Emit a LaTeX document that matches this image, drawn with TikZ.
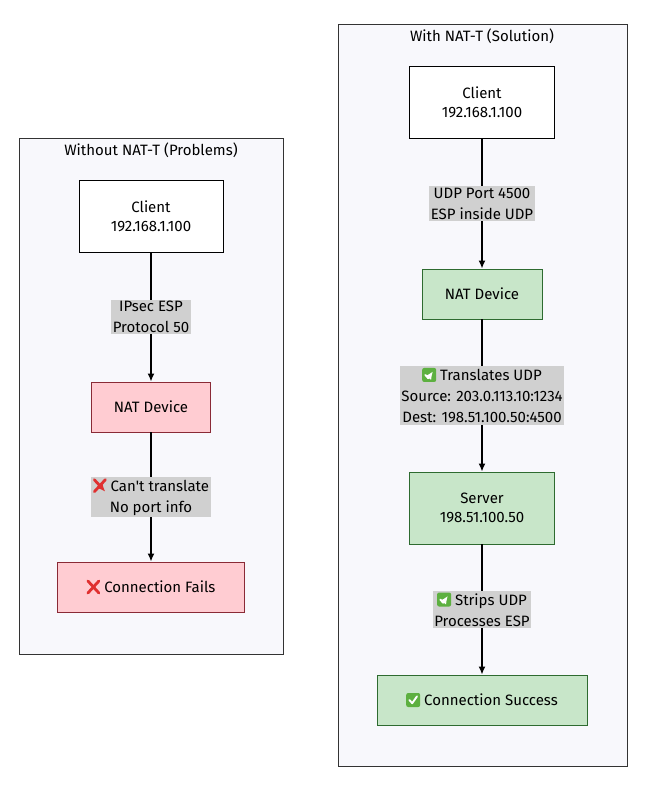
\documentclass[tikz,border=0pt]{standalone}
\usepackage{fontspec}
\setmainfont{Fira Sans}
\definecolor{clfill}{HTML}{F8F8FC}
\definecolor{clline}{HTML}{333333}
\definecolor{pinkf}{HTML}{FFCCD2}
\definecolor{pinkd}{HTML}{8A2A36}
\definecolor{greenf}{HTML}{C8E6C9}
\definecolor{greend}{HTML}{2E6B30}
\definecolor{lblbg}{HTML}{D0D0D0}
\definecolor{chkg}{HTML}{5DB040}
\definecolor{xred}{HTML}{E03030}
\newcommand\mychk{\tikz[baseline=-0.1ex,x=1pt,y=1pt]{\fill[chkg,rounded corners=2pt](0,-2) rectangle (14,12);\draw[white,line width=1.9pt,line cap=round,line join=round](3.2,5)--(6,1.8)--(10.8,8.6);}}
\newcommand\myx{\tikz[baseline=-0.1ex,x=1pt,y=1pt]{\draw[xred,line width=2.8pt,line cap=round](1.5,-1)--(12.5,11)(1.5,11)--(12.5,-1);}}
\begin{document}
\begin{tikzpicture}[x=1pt,y=-1pt,font=\fontsize{15}{19}\selectfont,
  cluster/.style={draw=clline,fill=clfill,line width=0.8pt},
  box/.style={draw=black,fill=white,line width=0.9pt,minimum height=#1,align=center,inner sep=0pt},
  pinkbox/.style={box=#1,fill=pinkf,draw=pinkd},
  greenbox/.style={box=#1,fill=greenf,draw=greend},
  lbl/.style={fill=lblbg,align=center,inner sep=1.5pt,font=\fontsize{15}{21}\selectfont},
  arr/.style={-{Latex[length=8pt,width=7pt]},line width=1.5pt}]
\usetikzlibrary{arrows.meta}
\useasboundingbox (0,0) rectangle (648,790);
\fill[white] (0,0) rectangle (648,790);
% left
\draw[cluster] (19,138) rectangle (283,654);
\node (lt) at (151,150) {Without NAT-T (Problems)};
\node[box=72pt,minimum width=144pt] (lc) at (151,216) {Client\\192.168.1.100};
\node[pinkbox=50pt,minimum width=119pt] (ln) at (151,407) {NAT Device};
\node[pinkbox=50pt,minimum width=187pt] (lf) at (151,587) {\myx\ Connection Fails};
\draw[arr] (lc) -- node[lbl] {IPsec ESP\\Protocol 50} (ln);
\draw[arr] (ln) -- node[lbl] {\myx\ Can\textquotesingle t translate\\No port info} (lf);
% right
\draw[cluster] (338,24) rectangle (627,766);
\node (rt) at (482,36) {With NAT-T (Solution)};
\node[box=72pt,minimum width=145pt] (rc) at (482,102) {Client\\192.168.1.100};
\node[greenbox=50pt,minimum width=120pt] (rn) at (482,294) {NAT Device};
\node[greenbox=72pt,minimum width=145pt] (rs) at (482,508) {Server\\198.51.100.50};
\node[greenbox=50pt,minimum width=210pt] (rf) at (482,700) {\mychk\ Connection Success};
\draw[arr] (rc) -- node[lbl] {UDP Port 4500\\ESP inside UDP} (rn);
\draw[arr] (rn) -- node[lbl] {\mychk\ Translates UDP\\Source: 203.0.113.10:1234\\Dest: 198.51.100.50:4500} (rs);
\draw[arr] (rs) -- node[lbl] {\mychk\ Strips UDP\\Processes ESP} (rf);
\end{tikzpicture}
\end{document}
